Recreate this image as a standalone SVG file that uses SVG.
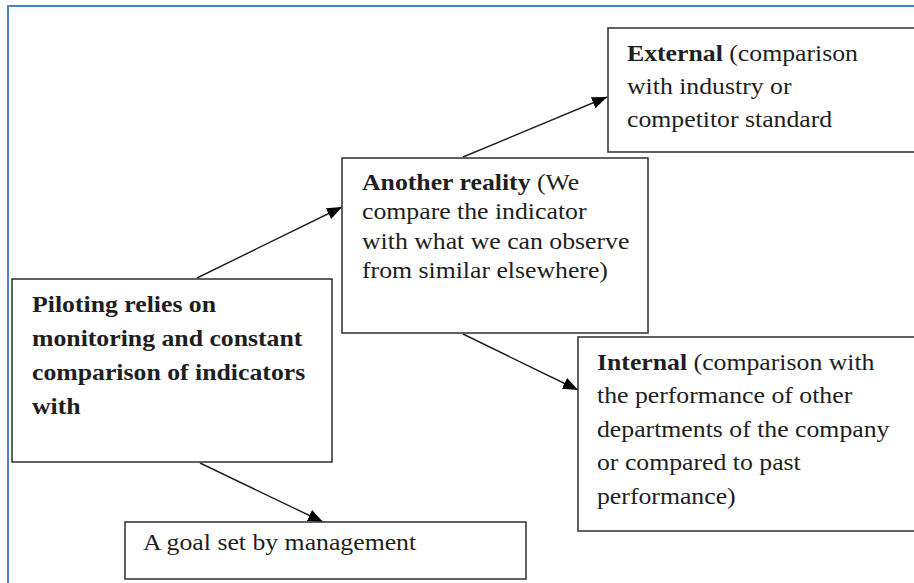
<svg xmlns="http://www.w3.org/2000/svg" width="914" height="583" viewBox="0 0 914 583">
<style>
.box{fill:#fff;stroke:#3a3a3a;stroke-width:1.6}
.t{font-family:"Liberation Serif","Times New Roman",serif;font-size:22.6px;fill:#1e1e1e}
.b{font-weight:bold}
.c{stroke:#222;stroke-width:1.4;fill:none;marker-end:url(#ah)}
</style>
<defs>
<marker id="ah" viewBox="0 0 15 12" refX="15" refY="6" markerWidth="15" markerHeight="12" markerUnits="userSpaceOnUse" orient="auto">
<path d="M0,0 L15,6 L0,12 z" fill="#000"/>
</marker>
</defs>
<rect width="914" height="583" fill="#fff"/>
<path d="M8,583 V6 H914" fill="none" stroke="#4f81bd" stroke-width="2"/>
<g id="connectors">
<line class="c" x1="197" y1="278" x2="342" y2="207"/>
<line class="c" x1="463" y1="157" x2="607" y2="97"/>
<line class="c" x1="463" y1="334" x2="578" y2="390"/>
<line class="c" x1="200" y1="463" x2="323" y2="522"/>
</g>
<g id="external">
<rect class="box" x="608" y="28" width="320" height="124"/>
<text class="t" transform="translate(627 61) scale(1.14 1)"><tspan x="0" class="b">External</tspan> (comparison<tspan x="0" dy="33">with industry or</tspan><tspan x="0" dy="33">competitor standard</tspan></text>
</g>
<g id="another">
<rect class="box" x="342" y="158" width="306" height="175"/>
<text class="t" transform="translate(362 190) scale(1.14 1)"><tspan x="0" class="b">Another reality</tspan> (We<tspan x="0" dy="29.5">compare the indicator</tspan><tspan x="0" dy="29.5">with what we can observe</tspan><tspan x="0" dy="29.5">from similar elsewhere)</tspan></text>
</g>
<g id="piloting">
<rect class="box" x="12" y="279" width="320" height="183"/>
<text class="t b" transform="translate(32 312) scale(1.14 1)"><tspan x="0">Piloting relies on</tspan><tspan x="0" dy="34">monitoring and constant</tspan><tspan x="0" dy="34">comparison of indicators</tspan><tspan x="0" dy="34">with</tspan></text>
</g>
<g id="internal">
<rect class="box" x="578" y="337" width="340" height="194"/>
<text class="t" transform="translate(597 370) scale(1.14 1)"><tspan x="0" class="b">Internal</tspan> (comparison with<tspan x="0" dy="33.5">the performance of other</tspan><tspan x="0" dy="33.5">departments of the company</tspan><tspan x="0" dy="33.5">or compared to past</tspan><tspan x="0" dy="33.5">performance)</tspan></text>
</g>
<g id="goal">
<rect class="box" x="125" y="522" width="401" height="57"/>
<text class="t" transform="translate(143 550) scale(1.14 1)">A goal set by management</text>
</g>
</svg>
